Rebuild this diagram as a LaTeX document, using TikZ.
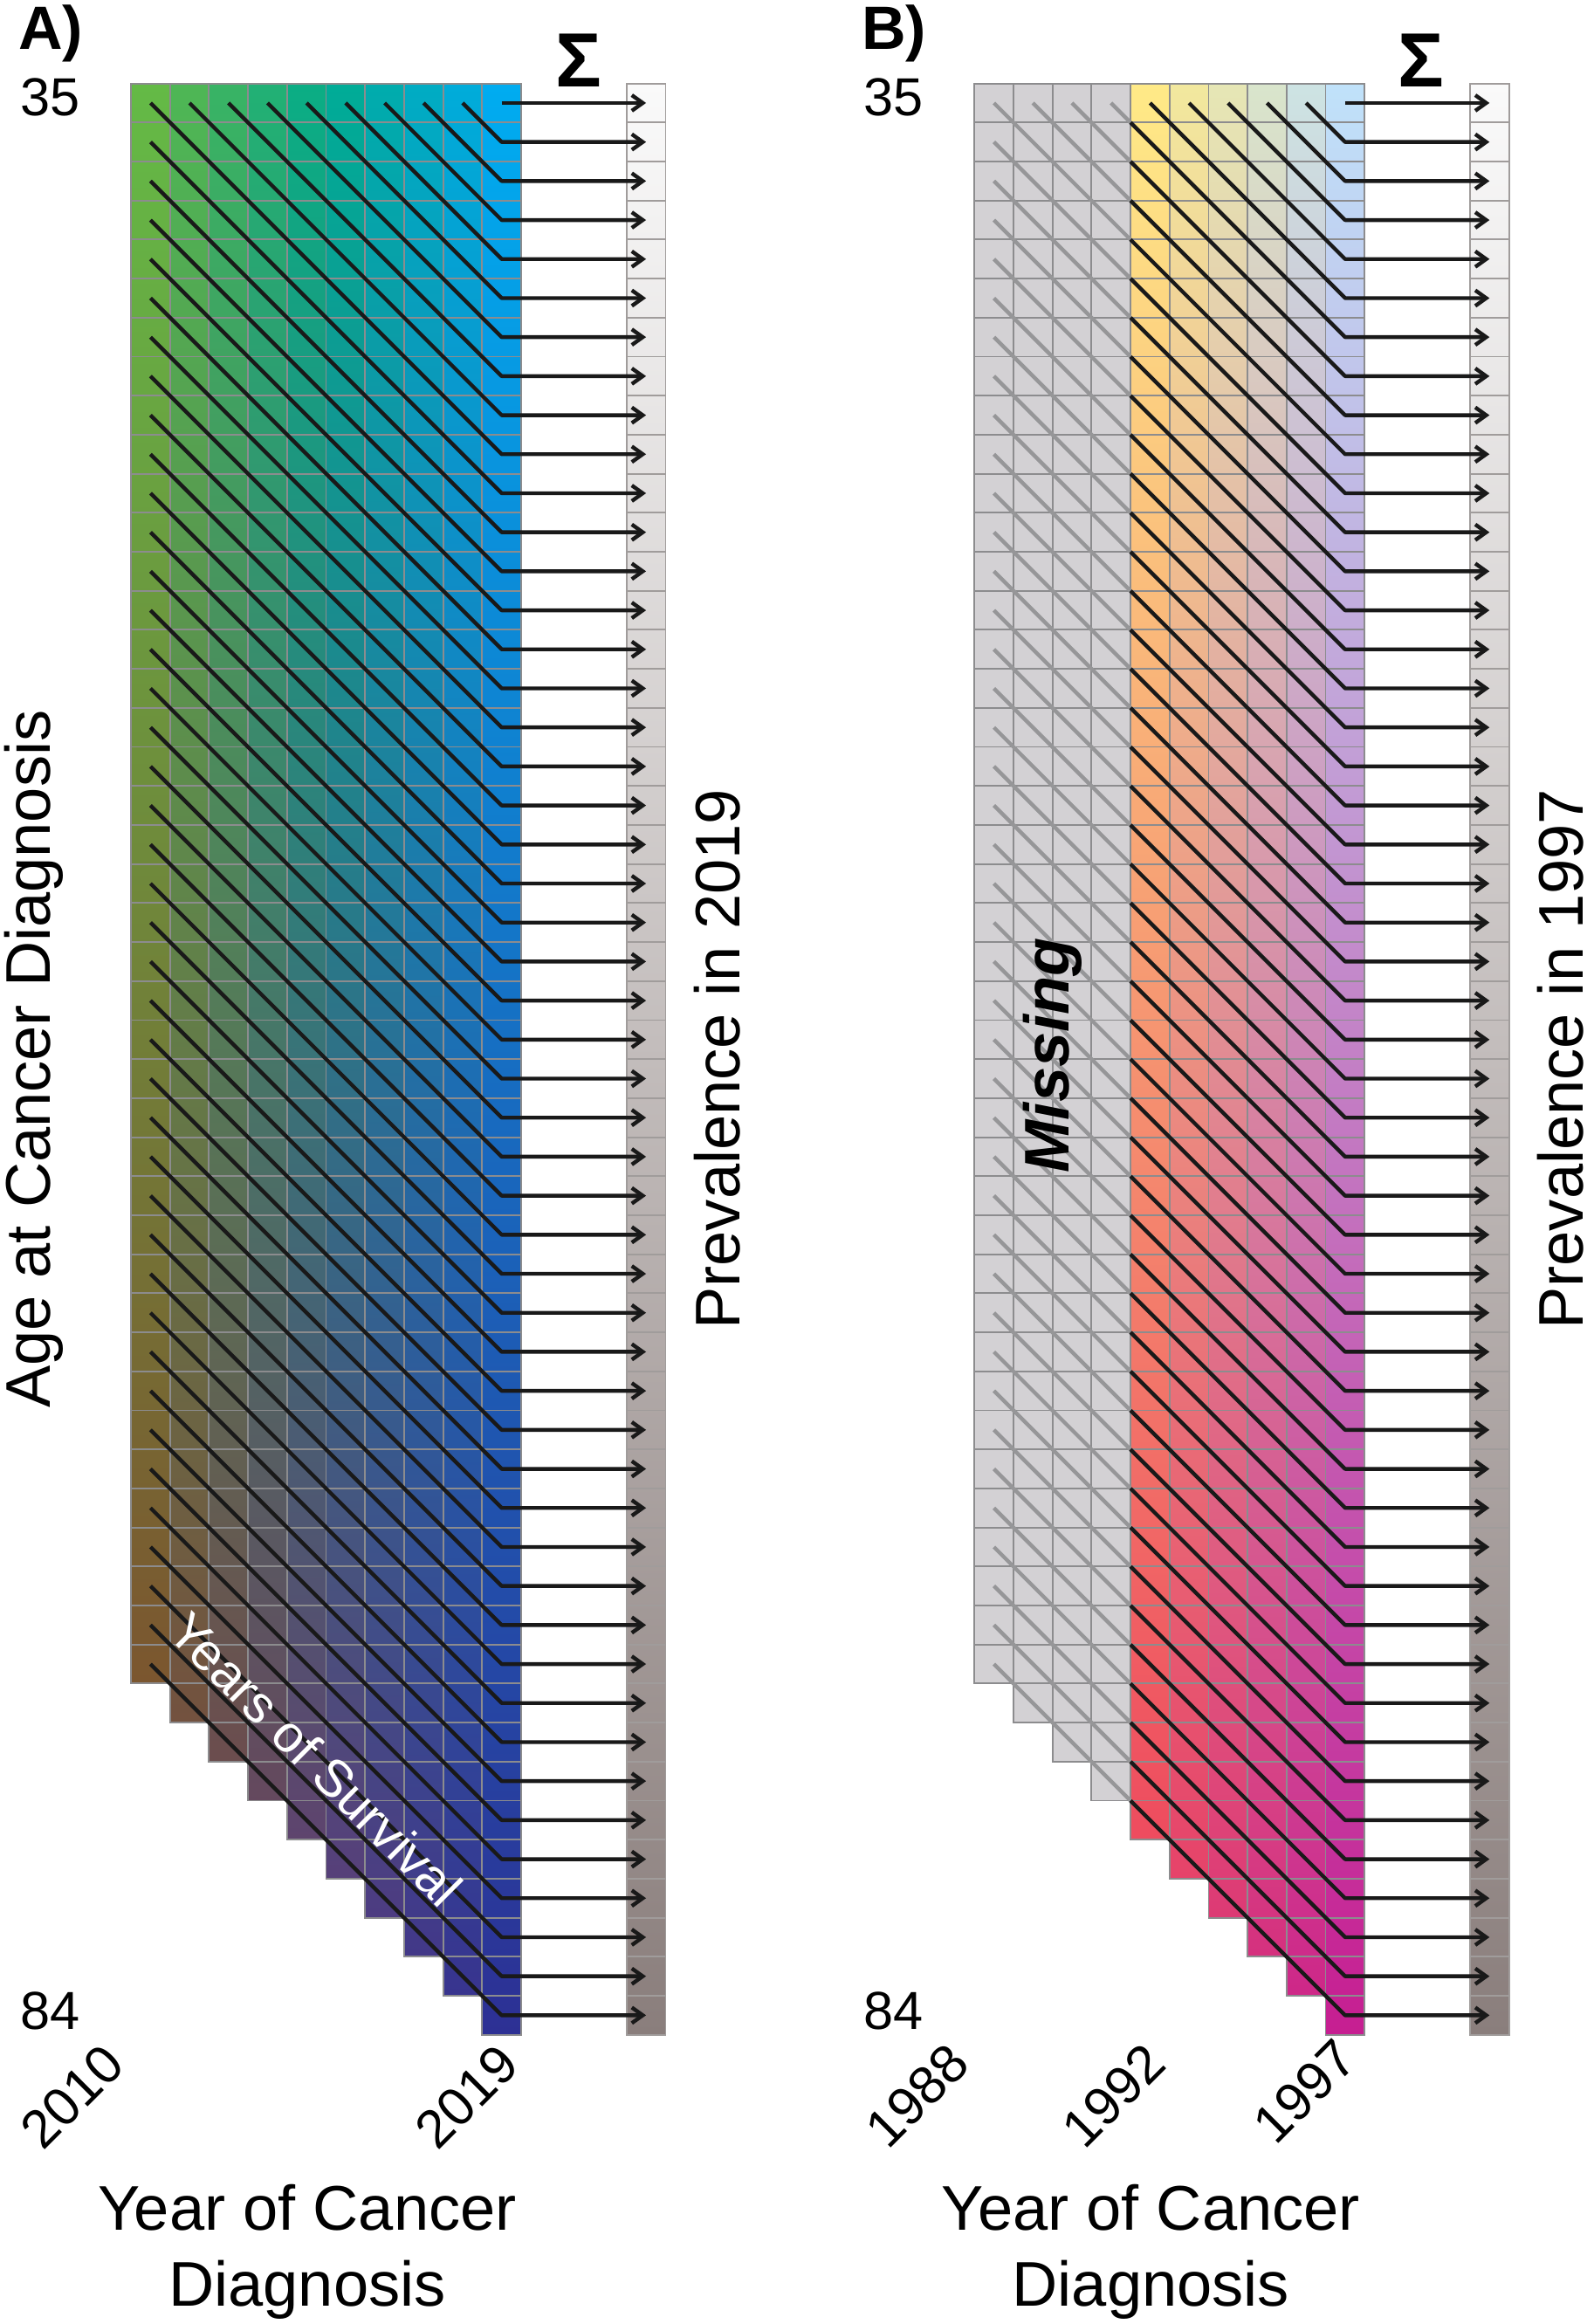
\documentclass[tikz,border=0pt]{standalone}
\usepackage{fontspec}
\setmainfont{Liberation Sans}
\usetikzlibrary{arrows.meta}

\definecolor{aTL}{RGB}{100,186,70}
\definecolor{aTM}{RGB}{0,172,140}
\definecolor{aTR}{RGB}{0,172,240}
\definecolor{aBL}{RGB}{128,64,42}
\definecolor{aBM}{RGB}{100,55,115}
\definecolor{aBR}{RGB}{45,48,148}
\definecolor{bTL}{RGB}{255,234,135}
\definecolor{bTR}{RGB}{192,226,250}
\definecolor{bBL}{RGB}{236,58,90}
\definecolor{bBR}{RGB}{198,30,145}
\definecolor{cellgray}{RGB}{140,140,142}
\definecolor{missfill}{RGB}{211,209,212}
\definecolor{missgray}{RGB}{150,150,152}
\definecolor{sumtop}{RGB}{250,250,250}
\definecolor{sumbot}{RGB}{138,126,124}
\definecolor{sumedge}{RGB}{160,156,155}

\tikzset{
	cellline/.style={draw=cellgray, line width=0.6pt},
	sumline/.style={draw=sumedge, line width=0.6pt},
	survline/.style={line width=1.4pt, draw=black!90, line join=round},
	missline/.style={line width=1.4pt, draw=missgray},
	sumarrow/.style={survline, -{Straight Barb[length=1.4mm,width=2mm]}}
}

\begin{document}
\begin{tikzpicture}[
		x=0.5cm, y=0.5cm,
		axislabel/.style={font=\fontsize{23}{27.6}\selectfont, inner sep=0pt},
		agelabel/.style={font=\fontsize{19.5}{23}\selectfont, inner sep=0pt, anchor=base west},
		yearlabel/.style={font=\fontsize{19.5}{23}\selectfont, inner sep=0pt, rotate=45, anchor=south east},
		panellabel/.style={font=\fontsize{22.3}{26}\selectfont\bfseries, inner sep=0pt, anchor=base west},
		sumlabel/.style={font=\fontsize{28}{33}\selectfont\bfseries, inner sep=0pt},
		misslabel/.style={font=\fontsize{23}{27.6}\selectfont\bfseries\itshape, inner sep=0pt, rotate=90, anchor=base},
		survlabel/.style={font=\fontsize{19}{23}\selectfont, text=white, inner sep=0pt, rotate=-45}
		]
		
		\useasboundingbox (0,0) rectangle (40.83,-59.55);
		
		% panel A
		\begin{scope}[shift={(3.356,-2.139)}]
			\foreach \c in {0,...,9}{
				\pgfmathtruncatemacro{\n}{41+\c}
				\pgfmathsetmacro{\t}{100*\n/50}
				\ifnum\c<5
				\pgfmathsetmacro{\s}{100*\c/4.5}
				\colorlet{ctop}{aTM!\s!aTL}
				\colorlet{cbase}{aBM!\s!aBL}
				\else
				\pgfmathsetmacro{\s}{100*(\c-4.5)/4.5}
				\colorlet{ctop}{aTR!\s!aTM}
				\colorlet{cbase}{aBR!\s!aBM}
				\fi
				\colorlet{cbot}{cbase!\t!ctop}
				\shade[top color=ctop, bottom color=cbot] (\c,0) rectangle (\c+1,-\n);
				\foreach \r in {1,...,\n} \draw[cellline] (\c,-\r+1) rectangle (\c+1,-\r);
			}
			
			\shade[top color=sumtop, bottom color=sumbot] (12.7,0) rectangle (13.7,-50);
			\foreach \r in {1,...,50} \draw[sumline] (12.7,-\r+1) rectangle (13.7,-\r);
			
			\foreach \r in {0,...,49}{
				\coordinate (sumA-\r) at (13.2,-\r-0.5);
				\coordinate (bendA-\r) at (9.5,-\r-0.5);
			}
			\foreach \r in {0,...,49}{
				\pgfmathtruncatemacro{\cz}{max(0,9-\r)}
				\pgfmathtruncatemacro{\rz}{\r-9+\cz}
				\draw[sumarrow] (\cz+0.5,-\rz-0.5) -- (bendA-\r) -- (sumA-\r);
			}
			
			\node[panellabel] (labA) at (-2.9,0.864) {A)};
			\node[agelabel] (topA) at (-2.85,-0.836) {35};
			\node[agelabel] (botA) at (-2.85,-49.85) {84};
			\node[yearlabel] (firstA) at (-0.07,-50.85) {2010};
			\node[yearlabel] (lastA) at (10.05,-50.85) {2019};
			\node[sumlabel] (sigA) at (11.48,0.6) {Σ};
			\node[axislabel, rotate=90, anchor=base] (ageA) at (-2.08,-25) {Age at Cancer Diagnosis};
			\node[axislabel, rotate=90, anchor=base] (prevA) at (15.6,-25) {Prevalence in 2019};
			\node[axislabel, align=center, anchor=north] (yearA) at (4.52,-53.83) {Year of Cancer\\Diagnosis};
			\node[survlabel] (survA) at (4.74,-42.94) {Years of Survival};
		\end{scope}
		
		% panel B
		\begin{scope}[shift={(24.97,-2.139)}]
			\foreach \c in {0,...,3}{
				\pgfmathtruncatemacro{\n}{41+\c}
				\fill[missfill] (\c,0) rectangle (\c+1,-\n);
				\foreach \r in {1,...,\n} \draw[cellline] (\c,-\r+1) rectangle (\c+1,-\r);
			}
			\foreach \c in {4,...,9}{
				\pgfmathtruncatemacro{\n}{41+\c}
				\pgfmathsetmacro{\t}{100*\n/50}
				\pgfmathsetmacro{\s}{100*(\c-4)/5}
				\colorlet{ctop}{bTR!\s!bTL}
				\colorlet{cbase}{bBR!\s!bBL}
				\colorlet{cbot}{cbase!\t!ctop}
				\shade[top color=ctop, bottom color=cbot] (\c,0) rectangle (\c+1,-\n);
				\foreach \r in {1,...,\n} \draw[cellline] (\c,-\r+1) rectangle (\c+1,-\r);
			}
			
			\shade[top color=sumtop, bottom color=sumbot] (12.7,0) rectangle (13.7,-50);
			\foreach \r in {1,...,50} \draw[sumline] (12.7,-\r+1) rectangle (13.7,-\r);
			
			\foreach \r in {0,...,49}{
				\coordinate (sumB-\r) at (13.2,-\r-0.5);
				\coordinate (bendB-\r) at (9.5,-\r-0.5);
			}
			\foreach \r in {0,...,49}{
				\ifnum\r<6
				\draw[sumarrow] (9.5-\r,-0.5) -- (bendB-\r) -- (sumB-\r);
				\else
				\pgfmathtruncatemacro{\cz}{max(0,9-\r)}
				\pgfmathtruncatemacro{\rz}{\r-9+\cz}
				\coordinate (edgeB-\r) at (4,5-\r);
				\draw[missline] (\cz+0.5,-\rz-0.5) -- (edgeB-\r);
				\draw[sumarrow] (edgeB-\r) -- (bendB-\r) -- (sumB-\r);
				\fi
			}
			
			\node[panellabel] (labB) at (-2.9,0.864) {B)};
			\node[agelabel] (topB) at (-2.85,-0.836) {35};
			\node[agelabel] (botB) at (-2.85,-49.85) {84};
			\node[yearlabel] (firstB) at (-0.03,-50.82) {1988};
			\node[yearlabel] (midB) at (5.0,-50.82) {1992};
			\node[yearlabel] (lastB) at (9.9,-50.72) {1997};
			\node[sumlabel] (sigB) at (11.45,0.6) {Σ};
			\node[misslabel] (missB) at (2.43,-24.9) {Missing};
			\node[axislabel, rotate=90, anchor=base] (prevB) at (15.6,-25) {Prevalence in 1997};
			\node[axislabel, align=center, anchor=north] (yearB) at (4.52,-53.83) {Year of Cancer\\Diagnosis};
		\end{scope}
		
	\end{tikzpicture}
\end{document}
